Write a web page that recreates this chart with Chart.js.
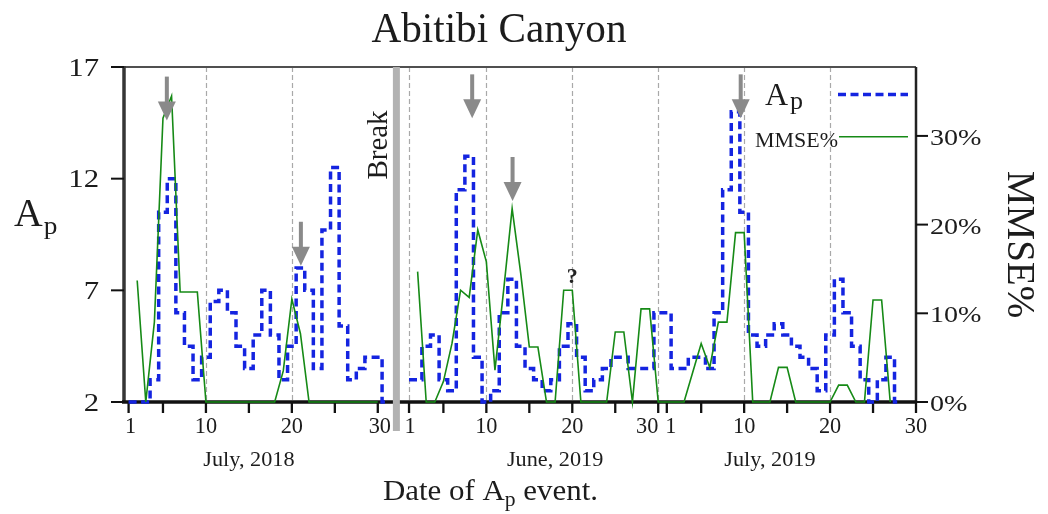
<!DOCTYPE html>
<html>
<head>
<meta charset="utf-8">
<title>Abitibi Canyon</title>
<script src="https://cdn.jsdelivr.net/npm/chart.js@4.4.1/dist/chart.umd.min.js"></script>
<style>
  html, body { margin: 0; padding: 0; background: #ffffff; }
  #wrap { width: 1048px; height: 514px; position: relative; }
</style>
</head>
<body>
<div id="wrap"><canvas id="c" width="1048" height="514"></canvas></div>
<script>
// ---- Daily Ap index (step series) ----
const apJul2018 = [2, 2, 2, 3, 10.5, 12, 6, 4.5, 3, 4, 6.5, 7, 6, 4.5, 3.5, 5, 7, 5, 3, 4.5,
                   8, 7, 3.5, 9.7, 12.5, 5.4, 3, 3.5, 4, 4, 2];                 // July 1..31, 2018
const apJun2019 = [3, 3, 4.5, 5, 3, 2.5, 11.5, 13, 4, 2, 2.5, 6, 7.5, 4.5, 3.5, 3, 2.5, 3, 4.5, 5.5,
                   4, 2.5, 3, 3.5, 4, 4, 3.5, 3.5, 3.5, 6];                     // June 1..30, 2019
const apJul2019 = [6, 3.5, 3.5, 4, 4, 3.5, 6, 11.5, 15, 10.5, 5, 4.5, 5, 5.5, 5, 4.5, 4, 3.5, 2.5, 5,
                   7.5, 6, 4.5, 3, 2, 3, 4, 2];                                 // July 1..28, 2019

// ---- MMSE% ----
const mmseJul2018 = [13.7, 0, 9, 32, 34.5, 12.4, 12.4, 12.4, 0, 0, 0, 0, 0, 0, 0, 0, 0, 3.5, 11.6, 7.7,
                     0, 0, 0, 0, 0, 0, 0, 0, 0];                                // July 2..30, 2018
const mmseJun2019 = [14.7, 0, 0, 2.3, 6.6, 12.6, 11.8, 19.4, 15.8, 3.6, 12.5, 21.8, 14.5, 6.2, 6.2, 0, 0,
                     12.6, 12.6, 0, 0, 0, 0, 7.9, 7.9, 0, 10.5, 10.5, 0];       // June 2..30, 2019
const mmseJul2019 = [0, 0, 0, 3.3, 6.6, 3.9, 9, 9, 19.1, 19.1, 0, 0, 0, 3.9, 3.9, 0, 0, 0, 0, 0,
                     1.9, 1.9, 0, 0, 11.5, 11.5, 0];                            // July 1..27, 2019

// first day held by each series
const apStartDay = [1, 1, 1];
const mmseStartDay = [2, 2, 1];

// ---- axis ticks and labels ----
const monthNames = ['July, 2018', 'June, 2019', 'July, 2019'];
const dayTicks = [1, 5, 10, 15, 20, 25, 30];
const dayLabels = [1, 10, 20, 30];
const apTicks = [2, 7, 12, 17];
const mmseTicks = [0, 10, 20, 30];

// ---- layout of the three month panels on one continuous day axis ----
const monthOffset = [-0.465, 32.17, 62.17];
const monthLabelDay = [15, 18, 13];
const monthGridDays = [[10, 20], [1, 10, 20, 30], [10, 20]];
const monthLabelShift = [[2, 0, 0, 2], [1, 0, 0, -11], [4, 0, 0, 0]];
const X_MAX = 92.17;
const BREAK_POS = 31.7;

// event arrows: month index, day, Ap level of the tip
const arrowMonth = [0, 0, 1, 1, 2];
const arrowDay = [5.45, 21.05, 8.35, 13.05, 9.6];
const arrowAp = [14.6, 8.1, 14.7, 11.0, 14.7];

const BLUE = '#1424e0';
const GREEN = '#168a16';
const INK = '#1c1c1c';
const SERIF = '"Liberation Serif", "DejaVu Serif", serif';

const dayPos = (m, d) => d + monthOffset[m];
const toPoints = (vals, m, start) => vals.map((v, i) => ({ x: dayPos(m, start + i), y: v }));

const ap2018 = toPoints(apJul2018, 0, apStartDay[0]);
const ap2019 = toPoints(apJun2019, 1, apStartDay[1]).concat(toPoints(apJul2019, 2, apStartDay[2]));
const mm2018 = toPoints(mmseJul2018, 0, mmseStartDay[0]);
const mm2019 = toPoints(mmseJun2019, 1, mmseStartDay[1]).concat(toPoints(mmseJul2019, 2, mmseStartDay[2]));

function drawText(ctx, s, x, y, opt) {
  const o = Object.assign({ size: 20, weight: '', align: 'left', sx: 1, width: null, color: INK }, opt);
  ctx.save();
  ctx.font = (o.weight + ' ' + o.size + 'px ' + SERIF).trim();
  ctx.fillStyle = o.color;
  ctx.textAlign = 'left';
  ctx.textBaseline = 'alphabetic';
  const w0 = ctx.measureText(s).width;
  const sx = o.width ? o.width / w0 : o.sx;
  const w = w0 * sx;
  const left = o.align === 'center' ? x - w / 2 : (o.align === 'right' ? x - w : x);
  ctx.translate(left, y);
  ctx.scale(sx, 1);
  ctx.fillText(s, 0, 0);
  ctx.restore();
  return w;
}

function line(ctx, x1, y1, x2, y2) {
  ctx.beginPath(); ctx.moveTo(x1, y1); ctx.lineTo(x2, y2); ctx.stroke();
}

const figurePlugin = {
  id: 'figure',
  beforeDatasetsDraw(chart) {
    const { ctx, chartArea: a, scales } = chart;
    const x = scales.x, y = scales.y, y2 = scales.y2;
    ctx.save();
    // dashed day guides
    ctx.strokeStyle = '#a9a9a9';
    ctx.lineWidth = 1.2;
    ctx.setLineDash([5, 3]);
    monthGridDays.forEach((days, m) => days.forEach(d => {
      const px = Math.round(x.getPixelForValue(dayPos(m, d))) + 0.5;
      line(ctx, px, a.top, px, a.bottom);
    }));
    ctx.setLineDash([]);

    // frame
    ctx.strokeStyle = '#505050'; ctx.lineWidth = 2;
    line(ctx, a.left, a.top, a.right, a.top);
    ctx.strokeStyle = '#222'; ctx.lineWidth = 2.5;
    line(ctx, a.right, a.top, a.right, a.bottom + 1);
    ctx.strokeStyle = '#363636'; ctx.lineWidth = 3.5;
    line(ctx, a.left, a.top - 1, a.left, a.bottom + 1);
    ctx.strokeStyle = '#111'; ctx.lineWidth = 3.5;
    line(ctx, a.left - 2, a.bottom, a.right + 1, a.bottom);

    // day ticks
    ctx.strokeStyle = '#111'; ctx.lineWidth = 2.3;
    monthOffset.forEach((_, m) => dayTicks.forEach(d => {
      const px = x.getPixelForValue(dayPos(m, d));
      line(ctx, px, a.bottom, px, a.bottom + 11);
    }));
    // Ap ticks (left) and MMSE% ticks (right)
    ctx.lineWidth = 2;
    apTicks.forEach(v => { const py = y.getPixelForValue(v); line(ctx, a.left - 13, py, a.left, py); });
    mmseTicks.forEach(v => { const py = y2.getPixelForValue(v); line(ctx, a.right, py, a.right + 12, py); });
    ctx.restore();
  },
  afterDatasetsDraw(chart) {
    const { ctx, chartArea: a, scales } = chart;
    const x = scales.x, y = scales.y, y2 = scales.y2;
    ctx.save();
    // event arrows
    ctx.fillStyle = '#8a8a8a';
    arrowDay.forEach((d, i) => {
      const px = x.getPixelForValue(dayPos(arrowMonth[i], d));
      const tip = y.getPixelForValue(arrowAp[i]);
      ctx.fillRect(px - 2, tip - 44, 4, 27);
      ctx.beginPath();
      ctx.moveTo(px - 9, tip - 19);
      ctx.lineTo(px + 9, tip - 19);
      ctx.lineTo(px, tip);
      ctx.closePath();
      ctx.fill();
    });
    // questionable event on 20 June 2019
    drawText(ctx, '?', x.getPixelForValue(dayPos(1, 20)), y2.getPixelForValue(14.3) + 8,
      { size: 22, weight: 'bold', align: 'center', color: '#222' });

    // break between the two seasons
    const bx = x.getPixelForValue(BREAK_POS);
    ctx.fillStyle = '#b2b2b2';
    ctx.fillRect(bx - 3.5, a.top, 7, 431 - a.top);
    ctx.save();
    ctx.translate(bx - 9, 145);
    ctx.rotate(-Math.PI / 2);
    drawText(ctx, 'Break', 0, 0, { size: 29, align: 'center' });
    ctx.restore();
    ctx.restore();
  },
  afterDraw(chart) {
    const { ctx, chartArea: a, scales } = chart;
    const x = scales.x, y = scales.y, y2 = scales.y2;
    ctx.save();
    // title
    drawText(ctx, 'Abitibi Canyon', 499, 41.7, { size: 42, align: 'center', width: 255 });

    // Ap tick labels
    apTicks.forEach(v => drawText(ctx, String(v), a.left - 25, y.getPixelForValue(v) + 8.5,
      { size: 25, align: 'right', sx: 1.23 }));
    // MMSE% tick labels
    mmseTicks.forEach(v => drawText(ctx, v + '%', a.right + 14, y2.getPixelForValue(v) + 9,
      { size: 24, sx: 1.17 }));
    // day labels
    monthOffset.forEach((_, m) => dayLabels.forEach((d, k) => {
      drawText(ctx, String(d), x.getPixelForValue(dayPos(m, d)) + monthLabelShift[m][k], 433,
        { size: 23, align: 'center', sx: 0.97 });
    }));
    // month names
    monthNames.forEach((n, m) => drawText(ctx, n, x.getPixelForValue(dayPos(m, monthLabelDay[m])), 465.5,
      { size: 21, align: 'center', sx: 1.06 }));

    // left axis title A_p
    const wA = drawText(ctx, 'A', 14, 226, { size: 39, sx: 1.02 });
    drawText(ctx, 'p', 14 + wA + 1, 234, { size: 26, sx: 1.05 });

    // right axis title
    ctx.save();
    ctx.translate(1019, 244.5);
    ctx.rotate(Math.PI / 2);
    ctx.font = '39px ' + SERIF;
    ctx.fillStyle = INK;
    ctx.textAlign = 'center';
    ctx.textBaseline = 'middle';
    ctx.fillText('MMSE%', 0, 1);
    ctx.restore();

    // x axis title: "Date of A_p event."
    ctx.save();
    const parts = [['Date of A', 30, 0], ['p', 21, 6], [' event.', 30, 0]];
    let w0 = 0;
    parts.forEach(p => { ctx.font = p[1] + 'px ' + SERIF; w0 += ctx.measureText(p[0]).width; });
    const sx = 215 / w0;
    let cx = 383;
    parts.forEach(p => { cx += drawText(ctx, p[0], cx, 500 + p[2], { size: p[1], sx: sx }); });
    ctx.restore();

    // legend
    const la = drawText(ctx, 'A', 765, 105, { size: 32 });
    drawText(ctx, 'p', 765 + la + 2, 108.7, { size: 26 });
    ctx.strokeStyle = BLUE; ctx.lineWidth = 3.5; ctx.setLineDash([8, 4.5]);
    line(ctx, 838, 94.5, 908, 94.5);
    ctx.setLineDash([]);
    drawText(ctx, 'MMSE%', 755, 146.5, { size: 22, width: 83 });
    ctx.strokeStyle = GREEN; ctx.lineWidth = 1.6;
    line(ctx, 839, 136.7, 908, 136.7);
    ctx.restore();
  }
};

const commonMmse = { yAxisID: 'y2', borderColor: GREEN, borderWidth: 1.6, pointRadius: 0,
                     tension: 0, fill: false, clip: false, order: 1 };
const commonAp = { yAxisID: 'y', borderColor: BLUE, borderWidth: 3.5, borderDash: [8, 4.5],
                   stepped: 'middle', pointRadius: 0, fill: false, clip: false, order: 2 };

new Chart(document.getElementById('c').getContext('2d'), {
  type: 'line',
  data: {
    datasets: [
      Object.assign({ label: 'MMSE% 2018', data: mm2018 }, commonMmse),
      Object.assign({ label: 'MMSE% 2019', data: mm2019 }, commonMmse),
      Object.assign({ label: 'Ap 2018', data: ap2018 }, commonAp),
      Object.assign({ label: 'Ap 2019', data: ap2019 }, commonAp)
    ]
  },
  options: {
    responsive: false,
    animation: false,
    layout: { padding: { left: 124, right: 132, top: 67, bottom: 112 } },
    plugins: { legend: { display: false }, tooltip: { enabled: false }, title: { display: false } },
    scales: {
      x: { type: 'linear', min: 0, max: X_MAX, display: false },
      y: { type: 'linear', min: 2, max: 17, display: false },
      y2: { type: 'linear', position: 'right', min: 0, max: 37.77, display: false }
    }
  },
  plugins: [figurePlugin]
});
</script>
</body>
</html>
